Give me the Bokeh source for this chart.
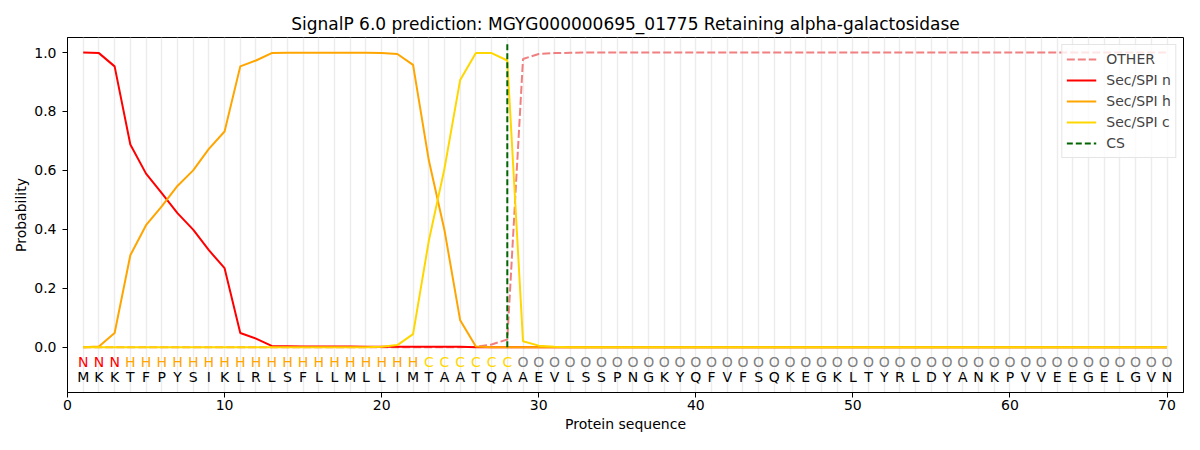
from bokeh.plotting import figure
from bokeh.models import Range1d, FixedTicker, PrintfTickFormatter, Legend, LegendItem
from bokeh.core.properties import value
from bokeh.embed import file_html
from bokeh.resources import INLINE

title_text = "SignalP 6.0 prediction: MGYG000000695_01775 Retaining alpha-galactosidase"

sequence = list("MKKTFPYSIKLRLSFLLMLLIMTAATQAAEVLSSPNGKYQFVFSQKEGKLTYRLDYANKPVVEEGELGVN")
labels = list("NNNHHHHHHHHHHHHHHHHHHHCCCCCCOOOOOOOOOOOOOOOOOOOOOOOOOOOOOOOOOOOOOOOOOO")
positions = list(range(1, len(sequence) + 1))

other = [0.0, 0.0, 0.0, 0.0, 0.0, 0.0, 0.0, 0.0, 0.0, 0.0,
         0.0, 0.0, 0.0, 0.0, 0.0, 0.0, 0.0, 0.0, 0.0, 0.0,
         0.0, 0.0, 0.0, 0.0, 0.0, 0.001, 0.009, 0.026, 0.978, 0.995,
         0.998, 0.999, 1.0, 1.0, 1.0, 1.0, 1.0, 1.0, 1.0, 1.0,
         1.0, 1.0, 1.0, 1.0, 1.0, 1.0, 1.0, 1.0, 1.0, 1.0,
         1.0, 1.0, 1.0, 1.0, 1.0, 1.0, 1.0, 1.0, 1.0, 1.0,
         1.0, 1.0, 1.0, 1.0, 1.0, 1.0, 1.0, 1.0, 1.0, 1.0]
sec_n = [1.0, 0.998, 0.953, 0.688, 0.589, 0.523, 0.455, 0.399, 0.329, 0.268,
         0.048, 0.029, 0.004, 0.003, 0.002, 0.002, 0.002, 0.002, 0.001, 0.001,
         0.001, 0.001, 0.001, 0.001, 0.001, 0.0, 0.0, 0.0, 0.0, 0.0,
         0.0, 0.0, 0.0, 0.0, 0.0, 0.0, 0.0, 0.0, 0.0, 0.0,
         0.0, 0.0, 0.0, 0.0, 0.0, 0.0, 0.0, 0.0, 0.0, 0.0,
         0.0, 0.0, 0.0, 0.0, 0.0, 0.0, 0.0, 0.0, 0.0, 0.0,
         0.0, 0.0, 0.0, 0.0, 0.0, 0.0, 0.0, 0.0, 0.0, 0.0]
sec_h = [0.0, 0.002, 0.048, 0.312, 0.414, 0.478, 0.547, 0.600, 0.673, 0.732,
         0.953, 0.973, 0.998, 0.999, 0.999, 0.999, 0.999, 0.999, 0.999, 0.998,
         0.995, 0.958, 0.635, 0.397, 0.091, 0.002, 0.0, 0.0, 0.0, 0.0,
         0.0, 0.0, 0.0, 0.0, 0.0, 0.0, 0.0, 0.0, 0.0, 0.0,
         0.0, 0.0, 0.0, 0.0, 0.0, 0.0, 0.0, 0.0, 0.0, 0.0,
         0.0, 0.0, 0.0, 0.0, 0.0, 0.0, 0.0, 0.0, 0.0, 0.0,
         0.0, 0.0, 0.0, 0.0, 0.0, 0.0, 0.0, 0.0, 0.0, 0.0]
sec_c = [0.0, 0.0, 0.0, 0.0, 0.0, 0.0, 0.0, 0.0, 0.0, 0.0,
         0.0, 0.0, 0.0, 0.0, 0.0, 0.0, 0.0, 0.0, 0.0, 0.001,
         0.007, 0.044, 0.360, 0.606, 0.907, 0.998, 0.998, 0.973, 0.020, 0.005,
         0.001, 0.0, 0.0, 0.0, 0.0, 0.0, 0.0, 0.0, 0.0, 0.0,
         0.0, 0.0, 0.0, 0.0, 0.0, 0.0, 0.0, 0.0, 0.0, 0.0,
         0.0, 0.0, 0.0, 0.0, 0.0, 0.0, 0.0, 0.0, 0.0, 0.0,
         0.0, 0.0, 0.0, 0.0, 0.0, 0.0, 0.0, 0.0, 0.0, 0.0]
cs_position = 28
cs_top = 1.035

label_colors = {"N": "#ff0000", "H": "#ffa500", "C": "#ffd700", "O": "#808080"}

FONT = "DejaVu Sans"

p = figure(width=1184, height=434, output_backend="svg", toolbar_location=None,
           x_range=Range1d(0, 71.05), y_range=Range1d(-0.154, 1.051),
           min_border_left=67, min_border_right=1, min_border_top=37, min_border_bottom=42,
           title=title_text)
p.title.align = "center"
p.title.text_font = FONT
p.title.text_font_size = "17px"
p.title.text_font_style = "normal"
p.title.text_color = "#000000"
p.title.standoff = 7

p.outline_line_color = "black"
p.outline_line_alpha = 1.0
p.outline_line_width = 1
p.background_fill_color = "white"
p.border_fill_color = "white"

# grid
p.ygrid.grid_line_color = None
p.xgrid.ticker = FixedTicker(ticks=positions)
p.xgrid.grid_line_color = "#ececec"
p.xgrid.grid_line_width = 1.5

# axes
p.xaxis.ticker = FixedTicker(ticks=[0, 10, 20, 30, 40, 50, 60, 70])
p.yaxis.ticker = FixedTicker(ticks=[0.0, 0.2, 0.4, 0.6, 0.8, 1.0])
p.yaxis.formatter = PrintfTickFormatter(format="%.1f")
p.xaxis.axis_label = "Protein sequence"
p.yaxis.axis_label = "Probability"
for ax in (p.xaxis[0], p.yaxis[0]):
    ax.axis_label_text_font = FONT
    ax.axis_label_text_font_size = "14px"
    ax.axis_label_text_font_style = "normal"
    ax.axis_label_text_color = "black"
    ax.major_label_text_font = FONT
    ax.major_label_text_font_size = "14px"
    ax.major_label_text_color = "black"
    ax.major_tick_in = 0
    ax.major_tick_out = 5
    ax.minor_tick_line_color = None
    ax.axis_line_color = "black"
    ax.major_tick_line_color = "black"
p.xaxis.major_label_standoff = 2
p.xaxis.axis_label_standoff = 3
p.yaxis.major_label_standoff = 6
p.yaxis.axis_label_standoff = 2

r_other = p.line(positions, other, line_color="#f08080", line_width=2, line_dash="8 3")
r_n = p.line(positions, sec_n, line_color="#ff0000", line_width=2)
r_h = p.line(positions, sec_h, line_color="#ffa500", line_width=2)
r_c = p.line(positions, sec_c, line_color="#ffd700", line_width=2)
r_cs = p.line([cs_position, cs_position], [0, cs_top], line_color="#006400", line_width=2, line_dash="6 3")

p.text(x=positions, y=[-0.05] * len(positions), text=labels,
       text_color=[label_colors[l] for l in labels],
       text_align="center", text_baseline="middle",
       text_font=value(FONT), text_font_size="14px")
p.text(x=positions, y=[-0.1] * len(positions), text=sequence,
       text_color="#000000",
       text_align="center", text_baseline="middle",
       text_font=value(FONT), text_font_size="14px")

legend = Legend(items=[
    LegendItem(label="OTHER", renderers=[r_other]),
    LegendItem(label="Sec/SPI n", renderers=[r_n]),
    LegendItem(label="Sec/SPI h", renderers=[r_h]),
    LegendItem(label="Sec/SPI c", renderers=[r_c]),
    LegendItem(label="CS", renderers=[r_cs]),
], location="top_right")
legend.margin = 7
legend.padding = 4
legend.spacing = 1
legend.glyph_width = 30
legend.glyph_height = 20
legend.label_height = 20
legend.label_standoff = 10
legend.label_text_font = FONT
legend.label_text_font_size = "14px"
legend.border_line_color = "#cccccc"
legend.border_line_width = 1
legend.background_fill_alpha = 0.8
p.add_layout(legend)

open("out.html", "w").write(file_html(p, INLINE))
